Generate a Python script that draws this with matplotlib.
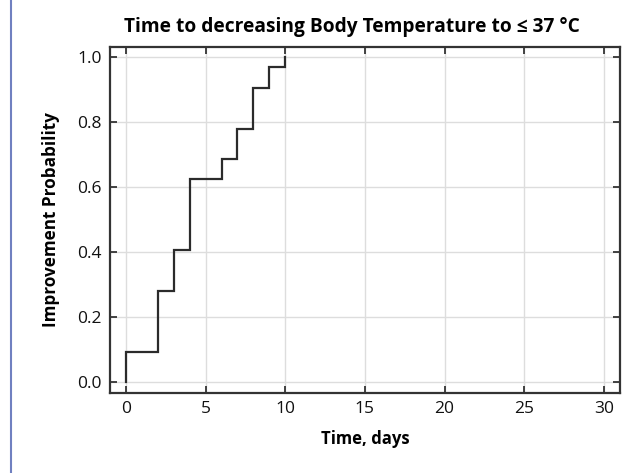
import matplotlib
matplotlib.use("Agg")
import matplotlib.pyplot as plt
from matplotlib.lines import Line2D

plt.rcParams['font.family'] = ['Open Sans', 'DejaVu Sans']

# Step times (days) and improvement probability
times = [0, 2, 3, 4, 6, 7, 8, 9, 10]
probs = [0.094, 0.281, 0.406, 0.625, 0.6875, 0.781, 0.906, 0.969, 1.0]
x_ticks = [0, 5, 10, 15, 20, 25, 30]
y_ticks = [0.0, 0.2, 0.4, 0.6, 0.8, 1.0]

fig = plt.figure(figsize=(6.41, 4.73), dpi=100)
ax = fig.add_axes([0.1716, 0.169, 0.7954, 0.7316])

# Build step path starting at (0, 0)
xs = [times[0]]
ys = [0.0]
for i, t in enumerate(times):
    xs.append(t)
    ys.append(probs[i])
    if i + 1 < len(times):
        xs.append(times[i + 1])
        ys.append(probs[i])
ax.plot(xs, ys, color='#2b2b2b', lw=1.6, solid_joinstyle='miter')

ax.set_xlim(-1, 31)
ax.set_ylim(-0.033, 1.032)
ax.set_xticks(x_ticks)
ax.set_yticks(y_ticks)
ax.set_yticklabels([f"{v:.1f}" for v in y_ticks])
ax.grid(True, color='#dddddd', lw=1)
ax.set_axisbelow(True)
ax.tick_params(direction='in', length=5, width=1.3, color='#333333',
               top=True, right=True, labelsize=12.5, labelcolor='#111111', pad=6)
for s in ax.spines.values():
    s.set_color('#333333')
    s.set_linewidth(1.6)

ax.set_title('Time to decreasing Body Temperature to ≤ 37 °C',
             fontsize=13.8, fontweight='bold', pad=11, x=0.4745)
ax.set_xlabel('Time, days', fontsize=12, fontweight='bold', labelpad=9)
ax.set_ylabel('Improvement Probability', fontsize=12.3, fontweight='bold', labelpad=12)

fig.add_artist(Line2D([11/641, 11/641], [0, 1], color='#7080c0', lw=1.5,
                      transform=fig.transFigure))

fig.savefig('out.png', dpi=100)
